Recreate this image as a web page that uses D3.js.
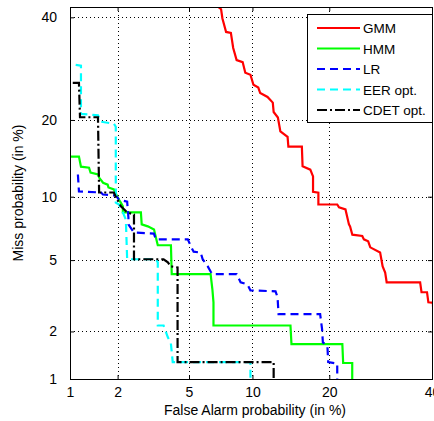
<!DOCTYPE html>
<meta charset="utf-8">
<style>
  body { margin: 0; background: #fff; }
  svg text { font-family: "Liberation Sans", Arial, sans-serif; }
</style>
<svg width="434" height="421"></svg>
<script src="https://d3js.org/d3.v7.min.js"></script>
<script>

// tick values (in %)
var ticksPct = [1, 2, 5, 10, 20, 40];

// curves as [false alarm %, miss %] corner points
var gmm = [[6.7, 43], [7.2, 41.8], [7.3, 39.8], [7.6, 36.8], [8.0, 36.6], [8.2, 33.4], [8.5, 30.9],
  [9.05, 30.5], [9.3, 28.4], [9.8, 28.0], [10.1, 26.1], [10.6, 25.6], [10.8, 24.6], [11.6, 23.9],
  [12.2, 22.9], [12.3, 21.3], [12.8, 20.4], [13.1, 18.2], [14.0, 17.4], [14.1, 16.0], [15.9, 16.0],
  [16.0, 13.4], [17.1, 13.0], [17.5, 12.2], [17.5, 10.5], [18.3, 10.4], [18.3, 9.24], [21.3, 9.24],
  [21.6, 8.97], [22.7, 8.78], [23.3, 7.49], [23.5, 7.33], [23.9, 6.69], [25.7, 6.6], [26.0, 6.35],
  [26.8, 6.21], [27.2, 5.8], [29.1, 5.46], [29.6, 4.64], [30.1, 4.3], [30.4, 3.82], [37.4, 3.82],
  [37.7, 3.37], [38.9, 3.37], [39.2, 2.96], [40.2, 2.94], [40.3, 2.53]];

var hmm = [[1.0, 14.65], [1.145, 14.65], [1.18, 13.36], [1.33, 13.24], [1.36, 12.65], [1.52, 12.42],
  [1.54, 12.06], [1.63, 11.48], [1.74, 11.27], [1.76, 10.96], [1.90, 10.75], [1.98, 10.1], [2.04, 9.7],
  [2.09, 9.42], [2.15, 9.06], [2.15, 8.51], [2.74, 8.51], [2.77, 7.49], [3.0, 7.33], [3.25, 7.09],
  [3.33, 6.49], [3.41, 5.94], [4.02, 5.94], [4.06, 4.22], [6.41, 4.22], [6.54, 3.49], [6.62, 2.96],
  [6.62, 2.17], [14.37, 2.17], [14.5, 1.675], [22.16, 1.675], [22.3, 1.272], [23.88, 1.272], [23.88, 0.9]];

var lr = [[1.127, 12.42], [1.145, 10.54], [1.583, 10.43], [1.628, 10.22], [1.95, 10.12], [2.04, 9.7],
  [2.28, 9.52], [2.32, 8.05], [2.32, 7.49], [2.50, 6.85], [3.245, 6.77], [3.33, 6.35], [4.93, 6.35],
  [5.11, 5.87], [5.28, 5.52], [5.73, 5.46], [5.86, 5.05], [6.21, 4.64], [6.41, 4.36], [6.54, 4.22],
  [8.50, 4.22], [8.86, 3.82], [9.51, 3.72], [9.80, 3.45], [12.52, 3.41], [12.76, 3.16], [12.88, 2.53],
  [18.57, 2.53], [18.86, 2.07], [18.99, 1.716], [19.70, 1.63], [19.83, 1.29], [21.30, 1.26], [21.30, 0.9]];

var eer = [[1.09, 29.95], [1.18, 29.8], [1.18, 20.99], [1.515, 20.75], [1.583, 19.72], [1.898, 19.4],
  [1.95, 18.93], [1.95, 9.42], [2.04, 9.24], [2.15, 8.51], [2.24, 7.89], [2.28, 5.05], [3.33, 5.05],
  [3.41, 4.87], [3.41, 2.17], [3.67, 2.17], [3.87, 1.843], [4.015, 1.70], [4.11, 1.29], [9.80, 1.29], [9.80, 0.9]];

var cdet = [[1.043, 26.47], [1.145, 26.47], [1.163, 20.44], [1.515, 20.44], [1.54, 10.43], [1.898, 10.43],
  [1.95, 10.0], [2.094, 9.06], [2.28, 8.51], [2.50, 8.32], [2.50, 5.05], [3.67, 5.05], [3.87, 4.87],
  [4.015, 4.64], [4.36, 4.58], [4.36, 1.29], [12.3, 1.29], [12.3, 0.9]];

var seriesNames = ["GMM", "HMM", "LR", "EER opt.", "CDET opt."];
var seriesData = [gmm, hmm, lr, eer, cdet];
var seriesColors = ["#ff0000", "#00ff00", "#0000ff", "#00ffff", "#000000"];
var seriesDash = [null, null, "8,5", "8,5", "10,3,2,3"];

// inverse normal cdf (Acklam)
function probit(p) {
  var a = [-3.969683028665376e+01, 2.209460984245205e+02, -2.759285104469687e+02, 1.383577518672690e+02, -3.066479806614716e+01, 2.506628277459239e+00],
      b = [-5.447609879822406e+01, 1.615858368580409e+02, -1.556989798598866e+02, 6.680131188771972e+01, -1.328068155288572e+01],
      c = [-7.784894002430293e-03, -3.223964580411365e-01, -2.400758277161838e+00, -2.549732539343734e+00, 4.374664141464968e+00, 2.938163982698783e+00],
      d = [7.784695709041462e-03, 3.224671290700398e-01, 2.445134137142996e+00, 3.754408661907416e+00];
  var q, r;
  if (p < 0.02425) {
    q = Math.sqrt(-2 * Math.log(p));
    return (((((c[0]*q+c[1])*q+c[2])*q+c[3])*q+c[4])*q+c[5]) / ((((d[0]*q+d[1])*q+d[2])*q+d[3])*q+1);
  } else if (p <= 0.97575) {
    q = p - 0.5; r = q * q;
    return (((((a[0]*r+a[1])*r+a[2])*r+a[3])*r+a[4])*r+a[5])*q / (((((b[0]*r+b[1])*r+b[2])*r+b[3])*r+b[4])*r+1);
  }
  q = Math.sqrt(-2 * Math.log(1 - p));
  return -(((((c[0]*q+c[1])*q+c[2])*q+c[3])*q+c[4])*q+c[5]) / ((((d[0]*q+d[1])*q+d[2])*q+d[3])*q+1);
}

var svg = d3.select("svg"),
    x0 = 70, x1 = 432, y0 = 7, y1 = 379;

var x = d3.scaleLinear().domain([probit(0.01), probit(0.40)]).range([x0, x1]);
var y = d3.scaleLinear().domain([probit(0.01), probit(0.423)]).range([y1, y0]);

var tv = ticksPct.map(function(d) { return probit(d / 100); });
var fmt = function(v) { return ticksPct[tv.indexOf(v)]; };

svg.append("defs").append("clipPath").attr("id", "clip")
  .append("rect").attr("x", x0).attr("y", y0).attr("width", x1 - x0).attr("height", y1 - y0);

// grid
var grid = svg.append("g").attr("stroke", "#000").attr("stroke-width", 1).attr("stroke-dasharray", "1,3");
tv.slice(1).forEach(function(v) {
  grid.append("line").attr("x1", Math.round(x(v)) + 0.5).attr("x2", Math.round(x(v)) + 0.5)
    .attr("y1", y0).attr("y2", y1);
  grid.append("line").attr("y1", Math.round(y(v)) + 0.5).attr("y2", Math.round(y(v)) + 0.5)
    .attr("x1", x0).attr("x2", x1);
});

// curves
var line = d3.line()
  .x(function(d) { return x(probit(d[0] / 100)); })
  .y(function(d) { return y(probit(d[1] / 100)); });

var plot = svg.append("g").attr("clip-path", "url(#clip)");
seriesData.forEach(function(data, i) {
  plot.append("path").datum(data)
    .attr("d", line)
    .attr("fill", "none")
    .attr("stroke", seriesColors[i])
    .attr("stroke-width", 2.2)
    .attr("stroke-dasharray", seriesDash[i]);
});

// axes
function styleAxis(g) {
  g.select(".domain").remove();
  g.selectAll(".tick line").attr("stroke", "#000");
  g.selectAll("text").attr("font-size", "14px").attr("fill", "#000");
}

svg.append("g").attr("transform", "translate(0," + y1 + ")")
  .call(d3.axisBottom(x).tickValues(tv).tickFormat(fmt).tickSizeInner(-4).tickSizeOuter(0).tickPadding(8))
  .call(styleAxis);
svg.append("g").attr("transform", "translate(" + x0 + ",0)")
  .call(d3.axisLeft(y).tickValues(tv).tickFormat(fmt).tickSizeInner(-4).tickSizeOuter(0).tickPadding(13))
  .call(styleAxis);
svg.append("g").attr("transform", "translate(0," + y0 + ")")
  .call(d3.axisTop(x).tickValues(tv).tickFormat("").tickSizeInner(-4).tickSizeOuter(0))
  .call(styleAxis);
svg.append("g").attr("transform", "translate(" + x1 + ",0)")
  .call(d3.axisRight(y).tickValues(tv).tickFormat("").tickSizeInner(-4).tickSizeOuter(0))
  .call(styleAxis);

svg.append("rect").attr("x", x0 + 0.5).attr("y", y0 + 0.5)
  .attr("width", x1 - x0).attr("height", y1 - y0)
  .attr("fill", "none").attr("stroke", "#000");

// axis titles
svg.append("text").attr("x", 255).attr("y", 415).attr("text-anchor", "middle")
  .attr("font-size", "14px").text("False Alarm probability (in %)");
svg.append("text").attr("transform", "translate(23," + (y0 + y1) / 2 + ") rotate(-90)")
  .attr("text-anchor", "middle").attr("font-size", "14px").text("Miss probability (in %)");

// legend
var lg = svg.append("g").attr("transform", "translate(307,14)");
lg.append("rect").attr("x", 0.5).attr("y", 0.5).attr("width", 125).attr("height", 108)
  .attr("fill", "#fff").attr("stroke", "#000");
seriesNames.forEach(function(name, i) {
  var yy = 14 + i * 20.5;
  lg.append("line").attr("x1", 10).attr("x2", 53).attr("y1", yy).attr("y2", yy)
    .attr("stroke", seriesColors[i]).attr("stroke-width", 2.2)
    .attr("stroke-dasharray", seriesDash[i]);
  lg.append("text").attr("x", 56).attr("y", yy + 5).attr("font-size", "13.5px").text(name);
});

</script>
